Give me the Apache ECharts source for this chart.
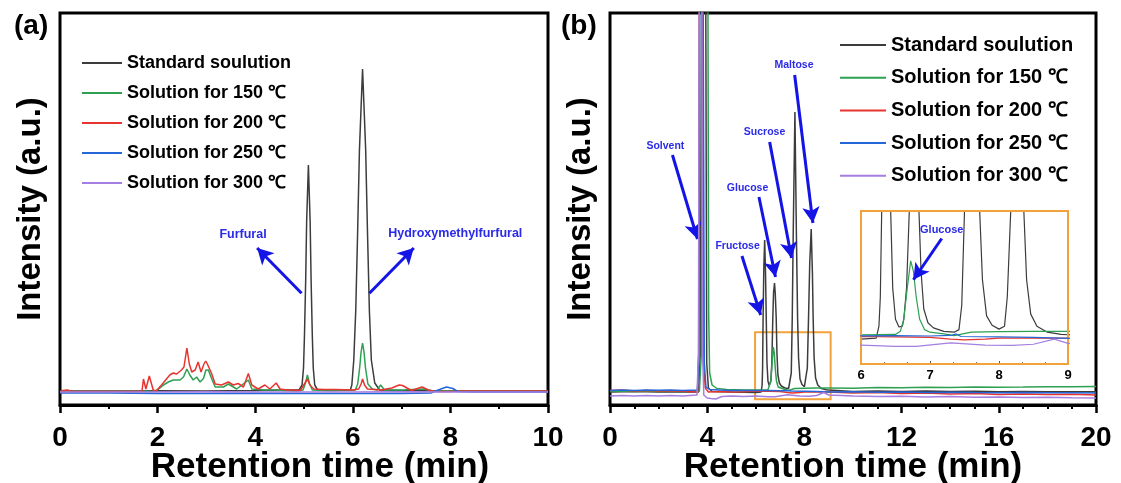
<!DOCTYPE html>
<html><head><meta charset="utf-8">
<script src="https://cdn.jsdelivr.net/npm/echarts@6/dist/echarts.min.js"></script>
<style>html,body{margin:0;padding:0;background:#fff}#c{width:1121px;height:483px}</style>
</head><body><div id="c"></div>
<script>
// ---------- DATA ----------
const seriesNames = ['Standard soulution','Solution for 150 ℃','Solution for 200 ℃','Solution for 250 ℃','Solution for 300 ℃'];
const xTicksA = [0,2,4,6,8,10];
const xTicksB = [0,4,8,12,16,20];
const xTicksInset = [6,7,8,9];

// Panel (a) chromatograms [time (min), intensity (a.u.)]
const aStd = [[0,1],[1.6,1],[2,1.2],[3,1],[4,1.5],[4.6,2],[4.90,2],[4.96,7],[4.99,24],[5.01,57],[5.035,113],[5.054,170],[5.09,227],[5.126,170],[5.145,113],[5.17,57],[5.19,24],[5.22,7],[5.28,2],[5.6,1.5],[5.95,2],[5.98,7],[6.02,32],[6.06,81],[6.10,162],[6.136,242],[6.20,323],[6.264,242],[6.30,162],[6.34,81],[6.38,32],[6.45,9],[6.55,2],[7,1.5],[8,1],[9,1],[10,1]];
const a150 = [[0,0.5],[1.9,0.5],[2.0,2],[2.12,7],[2.22,10],[2.32,12],[2.46,12],[2.53,15],[2.60,23],[2.66,17],[2.73,12],[2.80,15],[2.87,10],[2.94,13.5],[2.99,22],[3.04,22],[3.11,13],[3.18,5],[3.35,5],[3.45,8],[3.62,3],[3.86,12],[3.93,3],[4.17,2],[4.41,2],[4.85,1],[4.98,2],[5.03,9],[5.07,17],[5.11,9],[5.17,2],[5.5,1.5],[6.05,2],[6.10,8],[6.14,24],[6.17,40],[6.20,49],[6.23,40],[6.26,24],[6.31,8],[6.40,3],[6.5,2],[6.57,7],[6.65,2],[7.0,2],[7.45,3],[7.6,1.5],[8,1],[9,1],[10,1]];
const a200 = [[0,0],[0.06,1.5],[0.15,2],[0.25,0.5],[1.6,0.5],[1.68,1],[1.71,13],[1.76,3],[1.83,16],[1.91,2],[1.97,1],[2.08,7],[2.25,17],[2.32,19],[2.39,18],[2.49,22],[2.54,25],[2.60,44],[2.65,28],[2.70,20],[2.77,22],[2.83,30],[2.89,20],[2.95,28],[2.985,31],[3.02,28],[3.06,30],[3.11,18],[3.18,8],[3.31,7],[3.45,10],[3.55,7],[3.65,8.5],[3.69,10],[3.76,5],[3.86,18.5],[3.93,7],[4.06,3],[4.2,7],[4.3,3],[4.43,9],[4.51,3],[4.65,2],[4.78,2],[4.92,1.5],[4.97,5],[5.02,9],[5.07,13],[5.12,7],[5.2,3],[5.4,2.5],[5.64,2.5],[6.0,2],[6.12,3],[6.17,8],[6.20,13],[6.24,7],[6.30,3],[6.58,2],[6.8,4],[6.95,7],[7.02,6.5],[7.2,1.5],[7.42,5],[7.55,2],[7.7,0.5],[8,0.5],[8.2,1],[9,1],[10,1]];
const a250 = [[0,-1],[1,-1],[2,-1.5],[3,-1.5],[4,-1.2],[5,-1.5],[6,-1.5],[7,-1.5],[7.6,-1],[7.75,2],[7.92,5],[8.05,3.5],[8.15,0.5],[8.5,0],[9,0],[10,0]];
const a300 = [[0,0],[1,0],[2,0],[3,0.2],[4,0],[5,0],[6,0],[7,0.2],[8,0],[9,0],[10,0]];

// Panel (b) chromatograms
const bStd = [[0,1],[1,1.5],[2,1],[3,1.2],[3.65,1],[3.72,40],[3.78,500],[3.93,500],[3.98,30],[4.05,5],[4.2,1.5],[5,1],[6.0,0.5],[6.22,1],[6.26,8],[6.28,25],[6.30,75],[6.33,125],[6.365,153],[6.40,120],[6.43,75],[6.46,30],[6.50,12],[6.55,7.5],[6.60,8],[6.62,12],[6.66,30],[6.70,75],[6.73,100],[6.77,110],[6.80,100],[6.84,75],[6.87,40],[6.91,18],[6.97,10],[7.05,7],[7.2,5],[7.35,4.5],[7.42,6],[7.46,20],[7.50,75],[7.54,160],[7.61,281],[7.67,160],[7.72,75],[7.76,35],[7.82,14],[7.90,8.5],[8.0,6.3],[8.08,8],[8.12,25],[8.17,75],[8.22,130],[8.28,164],[8.33,120],[8.36,75],[8.40,35],[8.46,15],[8.55,8],[8.7,4.5],[8.9,3.2],[9.0,3],[10,1.5],[11,2],[12,1.5],[13,2],[14,1.5],[15,1.8],[16,1.2],[17,1.5],[18,1.3],[19,1.2],[20,1.3]];
const b150 = [[0,1.5],[0.5,2],[1,1.5],[1.5,2],[2,1.8],[2.5,2],[3,1.5],[3.5,2],[3.68,2],[3.76,40],[3.82,500],[4.02,500],[4.06,80],[4.10,20],[4.2,8],[4.4,4.5],[4.8,3.5],[5.5,3],[6.0,3],[6.5,3.2],[6.57,5],[6.62,12],[6.67,30],[6.72,46],[6.76,40],[6.80,25],[6.85,12],[6.92,6],[7.0,4.5],[7.2,3.5],[7.35,2.5],[7.6,4.5],[8,4.8],[8.5,5],[9,5],[10,4.8],[11,5.5],[12,5.2],[13,5.8],[14,5.5],[15,6],[16,5.8],[17,6],[18,6.3],[19,6.2],[20,6.5]];
const b200 = [[0,2.5],[0.5,3],[1,2],[1.5,2.5],[2,2],[2.5,2.2],[3,1.8],[3.6,1],[3.65,40],[3.68,500],[3.80,500],[3.85,30],[3.92,5],[4.05,1],[4.5,1.5],[5,1],[5.5,1.2],[6,2],[6.5,1.8],[7,1.5],[7.3,0.5],[7.5,0],[7.8,0.5],[8,1],[8.5,1],[9,1],[10,0],[11,0.5],[12,-0.5],[13,0],[14,-1],[15,-0.5],[16,-1.5],[17,-1],[18,-1.5],[19,-1.2],[20,-2]];
const b250 = [[0,2.5],[0.5,3],[1,2.5],[1.5,3],[2,2.8],[2.5,3],[3,2.6],[3.6,3],[3.66,40],[3.70,500],[3.82,500],[3.88,30],[3.95,6],[4.1,3.5],[4.5,3],[5,2.5],[6,2.4],[6.5,2.5],[7,2.3],[7.3,2.6],[7.38,3.5],[7.45,2],[8,1.8],[8.5,1.5],[9,0.9],[10,1.2],[11,0.8],[12,1],[13,0.5],[14,0.8],[15,0.5],[16,0.3],[17,0.6],[18,0.2],[19,0.3],[20,0]];
const b300 = [[0,-3],[0.5,-2.5],[1,-3],[1.5,-2.5],[2,-3],[2.5,-2.5],[3,-3],[3.58,-2],[3.64,40],[3.68,500],[3.77,500],[3.81,40],[3.86,-2],[4.0,-5],[4.15,-5.5],[4.36,-6],[4.6,-3.5],[5,-3],[5.5,-3.5],[6,-3],[6.5,-3.8],[6.8,-3.8],[7.3,-1.7],[7.8,-3],[8.2,-3.2],[8.5,-2.5],[8.8,0.5],[9,-2],[10,-3],[11,-3.5],[12,-3.2],[13,-4],[14,-3.5],[15,-4.2],[16,-4],[17,-4.5],[18,-4.2],[19,-4.8],[20,-5]];

// Annotations: label position and arrow (from -> to), in data units
const annotA = [
  {text:'Furfural', at:[3.75,157], from:[4.95,98.7], to:[4.04,144]},
  {text:'Hydroxymethylfurfural', at:[8.1,158], from:[6.34,98.7], to:[7.25,144]}
];
const annotB = [
  {text:'Solvent', at:[2.28,247], from:[2.57,238], to:[3.6,154]},
  {text:'Glucose', at:[5.66,205], from:[6.13,196], to:[6.81,116]},
  {text:'Sucrose', at:[6.36,261], from:[6.57,251], to:[7.47,135]},
  {text:'Maltose', at:[7.57,328], from:[7.6,318], to:[8.35,170]},
  {text:'Fructose', at:[5.25,147], from:[5.43,137], to:[6.2,78]}
];
const annotInset = [
  {text:'Glucose', at:[7.17,64], from:[7.17,59], to:[6.76,35]}
];
const insetBox = [[5.97,60.7],[9.08,-6.3]];

// ---------- CHART ----------
const colors = ['#3c3c3c','#2fa052','#e8342f','#2566d8','#a47ee0'];
const FONT = 'Liberation Sans, Arial, sans-serif';
const ARROW = '#1414e6';
const ORANGE = '#f2a23a';

function makeAxis(ticks, gridIndex, opts) {
  return Object.assign({
    type:'value', gridIndex, min:ticks[0], max:ticks[ticks.length-1], interval:ticks[1]-ticks[0],
    axisLine:{show:true, onZero:false, lineStyle:{color:'#000', width:3}},
    axisTick:{show:true, inside:false, length:8, lineStyle:{color:'#000', width:2.5}},
    minorTick:{show:true, splitNumber:2, length:4, lineStyle:{color:'#000', width:2}},
    splitLine:{show:false},
    axisLabel:{color:'#000', fontFamily:FONT, fontWeight:'bold', fontSize:28, margin:19},
    name:'Retention time (min)', nameLocation:'middle', nameGap:45, nameMoveOverlap:false,
    nameTextStyle:{color:'#000', fontFamily:FONT, fontWeight:'bold', fontSize:35}
  }, opts || {});
}
function makeYAxis(gridIndex, min, max, withName) {
  return {
    type:'value', gridIndex, min, max,
    axisLine:{show:false}, axisTick:{show:false}, axisLabel:{show:false}, splitLine:{show:false},
    name: withName ? 'Intensity (a.u.)' : '', nameLocation:'middle', nameGap:13, nameMoveOverlap:false,
    nameTextStyle:{color:'#000', fontFamily:FONT, fontWeight:'bold', fontSize:33}
  };
}
function line(name, data, idx, ci, width) {
  return {type:'line', name, data, xAxisIndex:idx, yAxisIndex:idx, symbol:'none', showSymbol:false,
    clip:true, animation:false, lineStyle:{color:colors[ci], width}, itemStyle:{color:colors[ci]}, z:2+ci};
}
function addAnnots(s, list, fontSize) {
  s.markLine = {silent:true, animation:false, symbol:['none','arrow'], symbolSize:[13,16],
    label:{show:false}, lineStyle:{color:ARROW, width:3, type:'solid'},
    data: list.map(a => [{coord:a.from}, {coord:a.to}])};
  s.markPoint = {silent:true, animation:false, symbol:'circle', symbolSize:1,
    itemStyle:{color:'rgba(0,0,0,0)'},
    label:{show:true, position:'inside', formatter:'{b}', color:'#2a2ae8', fontFamily:FONT, fontWeight:'bold', fontSize},
    data: list.map(a => ({name:a.text, coord:a.at}))};
}

const series = [];
[aStd,a150,a200,a250,a300].forEach((d,i)=>series.push(line(seriesNames[i], d, 0, i, 1.5)));
[bStd,b150,b200,b250,b300].forEach((d,i)=>series.push(line(seriesNames[i], d, 1, i, 1.5)));
[bStd,b150,b200,b250,b300].forEach((d,i)=>series.push(line(seriesNames[i], d, 2, i, 1.2)));
addAnnots(series[0], annotA, 12.5);
addAnnots(series[5], annotB, 10.5);
addAnnots(series[10], annotInset, 11);
series[9].markArea = {silent:true, animation:false,
  itemStyle:{color:'rgba(0,0,0,0)', borderColor:ORANGE, borderWidth:2},
  data:[[{coord:insetBox[0]},{coord:insetBox[1]}]]};

const legendBase = {orient:'vertical', icon:'rect', itemHeight:2, data:seriesNames,
  selectedMode:false, textStyle:{color:'#000', fontFamily:FONT, fontWeight:'bold'}};

const option = {
  backgroundColor:'#fff',
  animation:false,
  grid:[
    {left:60, top:13, width:488, height:392, show:true, borderColor:'#000', borderWidth:3, containLabel:false, outerBoundsMode:'none'},
    {left:610, top:13, width:486, height:392, show:true, borderColor:'#000', borderWidth:3, containLabel:false, outerBoundsMode:'none'},
    {left:861, top:211, width:207, height:153, show:true, borderColor:ORANGE, borderWidth:2, z:5, containLabel:false, outerBoundsMode:'none'}
  ],
  xAxis:[
    makeAxis(xTicksA, 0, {nameTextStyle:{color:'#000', fontFamily:FONT, fontWeight:'bold', fontSize:35, padding:[0,0,0,32]}}),
    makeAxis(xTicksB, 1, {minorTick:{show:true, splitNumber:4, length:4, lineStyle:{color:'#000', width:2}}}),
    makeAxis(xTicksInset, 2, {name:'', axisLine:{show:false, onZero:false},
      axisTick:{show:true, inside:true, length:3, lineStyle:{color:'#555', width:1}},
      minorTick:{show:true, splitNumber:3, length:2, lineStyle:{color:'#777', width:1}},
      axisLabel:{color:'#000', fontFamily:FONT, fontWeight:'bold', fontSize:13, margin:5}})
  ],
  yAxis:[ makeYAxis(0,-13,379,true), makeYAxis(1,-12,380,true), makeYAxis(2,-14,75,false) ],
  legend:[
    Object.assign({}, legendBase, {left:77, top:48, itemWidth:40, itemGap:10,
      textStyle:Object.assign({}, legendBase.textStyle, {fontSize:18, lineHeight:20})}),
    Object.assign({}, legendBase, {left:835, top:29, itemWidth:46, itemGap:10.7,
      textStyle:Object.assign({}, legendBase.textStyle, {fontSize:20, lineHeight:22})})
  ],
  graphic:[
    {type:'text', left:14, top:12, style:{text:'(a)', fill:'#000', font:'bold 28px '+FONT}},
    {type:'text', left:561, top:12, style:{text:'(b)', fill:'#000', font:'bold 28px '+FONT}}
  ],
  series
};
const chart = echarts.init(document.getElementById('c'), null, {renderer:'canvas'});
chart.setOption(option);
</script>
</body></html>
